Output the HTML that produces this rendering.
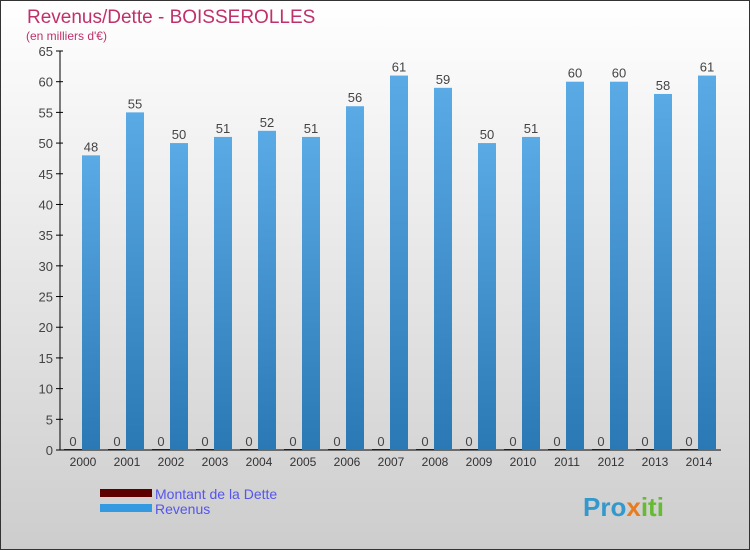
<!DOCTYPE html>
<html><head><meta charset="utf-8">
<style>
body{margin:0;}
#c{width:750px;height:550px;position:relative;overflow:hidden;font-family:"Liberation Sans",sans-serif;}
</style></head>
<body>
<div id="c">
<svg width="750" height="550" xmlns="http://www.w3.org/2000/svg" id="svg">
<defs>
<linearGradient id="bg" x1="0" y1="0" x2="0" y2="1"><stop offset="0" stop-color="#ffffff"/><stop offset="1" stop-color="#cdcdcd"/></linearGradient>
<linearGradient id="bar" x1="0" y1="0" x2="0" y2="1"><stop offset="0" stop-color="#5aaae6"/><stop offset="1" stop-color="#2a78b4"/></linearGradient>
</defs>
<rect x="0.5" y="0.5" width="749" height="549" fill="url(#bg)" stroke="#333"/>
<text x="27" y="23" font-size="19" fill="#c0306a">Revenus/Dette - BOISSEROLLES</text>
<text x="26" y="40" font-size="12" fill="#c0306a">(en milliers d'€)</text>
<g id="plot"></g>
<rect x="100" y="489" width="52" height="8" fill="#5c0000"/>
<rect x="100" y="504" width="52" height="8" fill="#3399e0"/>
<text x="155" y="499" font-size="14" fill="#5555ee">Montant de la Dette</text>
<text x="155" y="514" font-size="14" fill="#5555ee">Revenus</text>
<text x="583" y="516" font-size="26" font-weight="bold" fill="#3399cc">Pro<tspan fill="#e87b1e">x</tspan><tspan fill="#66bb33">iti</tspan></text>
</svg>
</div>
<script>
const years=["2000","2001","2002","2003","2004","2005","2006","2007","2008","2009","2010","2011","2012","2013","2014"];
const revenus=[48,55,50,51,52,51,56,61,59,50,51,60,60,58,61];
const dette=[0,0,0,0,0,0,0,0,0,0,0,0,0,0,0];
const yTicks=[0,5,10,15,20,25,30,35,40,45,50,55,60,65];
const NS="http://www.w3.org/2000/svg";
const g=document.getElementById("plot");
const x0=61,gw=44,yTop=51,yBot=450,yMax=65;
const y=v=>yBot-(v/yMax)*(yBot-yTop);
function mk(t,a,txt){const e=document.createElementNS(NS,t);for(const k in a)e.setAttribute(k,a[k]);if(txt!==undefined)e.textContent=txt;g.appendChild(e);return e;}
const ax=mk("line",{x1:60,y1:yTop,x2:60,y2:yBot,stroke:"#000"});


const bx=mk("line",{x1:56,y1:yBot,x2:x0+gw*years.length,y2:yBot,stroke:"#000"});


yTicks.forEach(t=>{
 const l=mk("line",{x1:56,y1:y(t),x2:63,y2:y(t),stroke:"#000"});
 
 
 const tx=mk("text",{x:53,y:y(t)+5,"font-size":13,fill:"#444","text-anchor":"end"},String(t));
 
 
});
years.forEach((yr,i)=>{
 const gx=x0+gw*i;
 const d=mk("rect",{x:gx+3,y:y(dette[i])-1,width:18,height:Math.max(1,yBot-y(dette[i])),fill:"#6a0000"});
 
 
 const dl=mk("text",{x:gx+12,y:y(dette[i])-4,"font-size":13,fill:"#444","text-anchor":"middle"},String(dette[i]));
 
 
 const r=mk("rect",{x:gx+21,y:y(revenus[i]),width:18,height:yBot-y(revenus[i]),fill:"url(#bar)"});
 
 
 const rl=mk("text",{x:gx+30,y:y(revenus[i])-4,"font-size":13,fill:"#444","text-anchor":"middle"},String(revenus[i]));
 
 
 const xl=mk("text",{x:gx+22,y:466,"font-size":12,fill:"#333","text-anchor":"middle"},yr);
 
 
});
</script>
</body></html>
